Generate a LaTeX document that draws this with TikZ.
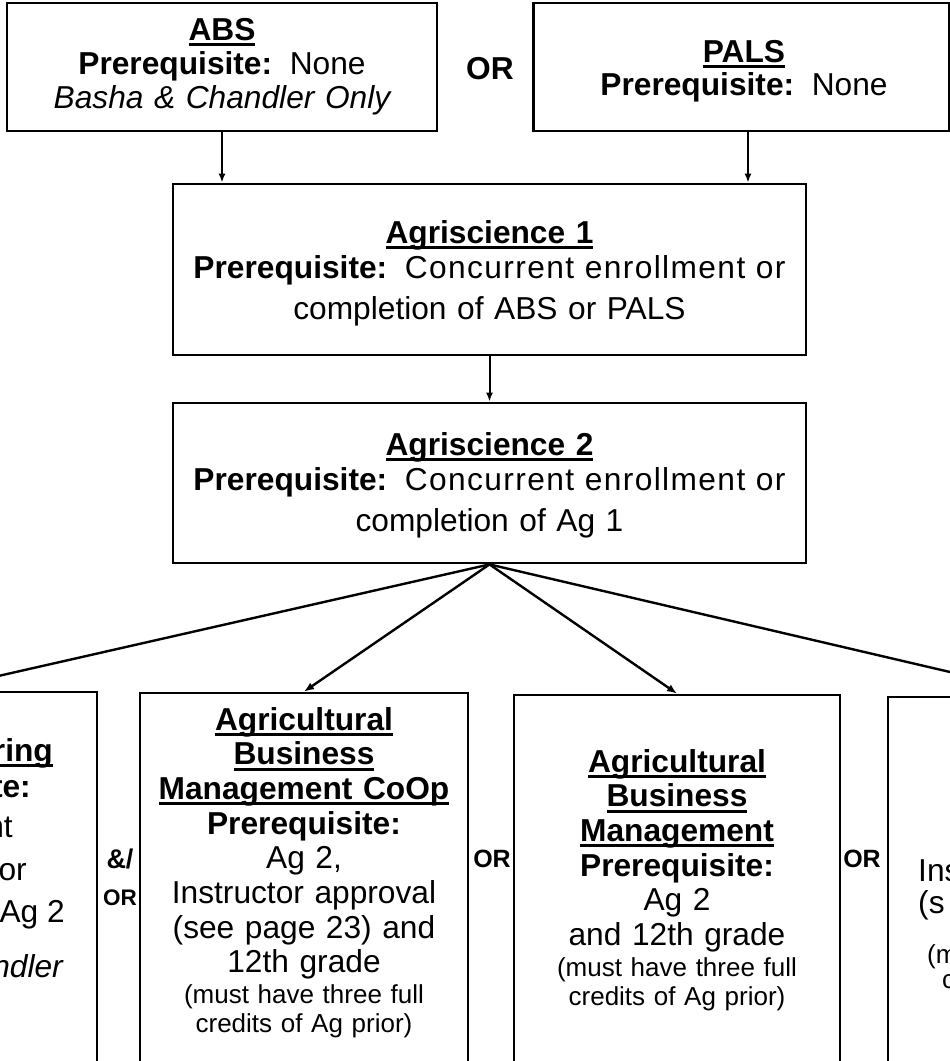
\documentclass[tikz,border=0pt]{standalone}
\usepackage{fontspec}
\setmainfont{Liberation Sans}
\newfontfamily\spacedfont{Liberation Sans}[LetterSpace=4.4]
\usetikzlibrary{arrows.meta}
\newcommand{\myul}[1]{\leavevmode\setbox0\hbox{#1}\rlap{\vrule height -3pt depth 5.8pt width \wd0}\box0}
\begin{document}
\begin{tikzpicture}[x=1pt,y=-1pt,
  cbox/.style={draw, line width=2.8pt, inner sep=0pt},
  conn/.style={line width=2pt, -{Latex[length=9pt,width=7pt]}},
  fanarrow/.style={line width=2.4pt, -{Latex[length=10pt,width=8pt]}},
  toptxt/.style={font=\fontsize{31.7}{34}\selectfont},
  palstxt/.style={font=\fontsize{31.7}{33}\selectfont},
  agtxt/.style={font=\fontsize{31.7}{35}\selectfont},
  bigtxt/.style={font=\fontsize{31.7}{34.7}\selectfont},
  smalltxt/.style={font=\fontsize{26}{29}\selectfont},
  txt/.style={anchor=base, align=center, inner sep=0pt},
  frag/.style={inner sep=0pt, font=\fontsize{31.7}{34.7}\selectfont},
  lbl/.style={inner sep=0pt, anchor=base}
]
\useasboundingbox (0,0) rectangle (950,1061);
\fill[white] (0,0) rectangle (950,1061);
\begin{scope}
\clip (0,0) rectangle (950,1061);

% boxes
\node[cbox, minimum width=430pt, minimum height=128pt] (abs) at (222,67) {};
\node[cbox, minimum width=416pt, minimum height=128pt] (pals) at (741.5,67) {};
\node[cbox, minimum width=633pt, minimum height=171pt] (ag1) at (489.5,269.5) {};
\node[cbox, minimum width=633pt, minimum height=160pt] (ag2) at (489.5,483) {};
\node[cbox, minimum width=326pt, minimum height=428pt] (leftbox) at (-66,906) {};
\node[cbox, minimum width=328pt, minimum height=427pt] (coop) at (304,906.5) {};
\node[cbox, minimum width=326pt, minimum height=425pt] (abm) at (677,907.5) {};
\node[cbox, minimum width=326pt, minimum height=423pt] (rightbox) at (1051,908.5) {};

% top texts
\node[txt, toptxt, text width=420pt] (absT) at (222,40)
  {\myul{\bfseries ABS}\\ {\bfseries Prerequisite:}\hspace{0.556em}None\\ {\itshape Basha \& Chandler Only}};
\node[lbl, font=\bfseries\fontsize{31.7}{34}\selectfont] (or1) at (490,79) {OR};
\node[txt, palstxt, text width=410pt] (palsT) at (744,62)
  {\myul{\bfseries PALS}\\ {\bfseries Prerequisite:}\hspace{0.556em}None};

% agriscience
\node[txt, agtxt, text width=620pt] (ag1T) at (489.5,243)
  {\myul{\bfseries Agriscience 1}\\ {\bfseries Prerequisite:}\hspace{0.556em}{\spacedfont Concurrent enrollment or}\\[6.5pt] completion of ABS or PALS};
\node[txt, agtxt, text width=620pt] (ag2T) at (489.5,455)
  {\myul{\bfseries Agriscience 2}\\ {\bfseries Prerequisite:}\hspace{0.556em}{\spacedfont Concurrent enrollment or}\\[6.5pt] completion of Ag 1};

% bottom texts
\node[txt, bigtxt, text width=320pt] (coopT) at (304,730)
  {\myul{\bfseries Agricultural}\\ \myul{\bfseries Business}\\ \myul{\bfseries Management CoOp}\\ {\bfseries Prerequisite:}\\ Ag 2,\\ Instructor approval\\ (see page 23) and\\ 12th grade};
\node[txt, smalltxt, text width=320pt] (coopS) at (304,1003)
  {(must have three full\\ credits of Ag prior)};
\node[txt, bigtxt, text width=320pt] (abmT) at (677,772)
  {\myul{\bfseries Agricultural}\\ \myul{\bfseries Business}\\ \myul{\bfseries Management}\\ {\bfseries Prerequisite:}\\ Ag 2\\ and 12th grade};
\node[txt, smalltxt, text width=320pt] (abmS) at (677,976)
  {(must have three full\\ credits of Ag prior)};

% left box fragments
\node[frag, anchor=base east] (lf1) at (53,761) {\myul{\bfseries ring}};
\node[frag, anchor=base east] (lf2) at (31,797) {\bfseries te:};
\node[frag, anchor=base east] (lf3) at (13,837) {nt};
\node[frag, anchor=base east] (lf4) at (27,880) {or};
\node[frag, anchor=base east] (lf5) at (65,922) {Ag 2};
\node[frag, anchor=base east] (lf6) at (63,977) {\itshape ndler};

% right box fragments
\node[frag, anchor=base west] (rf1) at (918,881) {Ins};
\node[frag, anchor=base west] (rf2) at (918,913) {(s};
\node[frag, anchor=base west, font=\fontsize{26}{29}\selectfont] (rf3) at (927,963) {(m};
\node[frag, anchor=base west, font=\fontsize{26}{29}\selectfont] (rf4) at (942,988) {c};

% between-box labels
\node[lbl, font=\bfseries\fontsize{27}{29}\selectfont] (andor1) at (120,868) {\&/};
\node[lbl, font=\bfseries\fontsize{22.5}{24}\selectfont] (andor2) at (120,905) {OR};
\node[lbl, font=\bfseries\fontsize{25}{27}\selectfont] (or2) at (492,867) {OR};
\node[lbl, font=\bfseries\fontsize{25}{27}\selectfont] (or3) at (862,867) {OR};

% connectors
\draw[conn] (abs.south) -- (abs.south |- ag1.north);
\draw[conn] (pals.south) ++(6.5,0) coordinate (palsdrop) -- (palsdrop |- ag1.north);
\draw[conn] (ag1.south) -- (ag2.north);
\draw[fanarrow] (ag2.south) -- (leftbox.north);
\draw[fanarrow] (ag2.south) -- (coop.north);
\draw[fanarrow] (ag2.south) -- (abm.north);
\draw[fanarrow] (ag2.south) -- (rightbox.north);
\end{scope}
\end{tikzpicture}
\end{document}
